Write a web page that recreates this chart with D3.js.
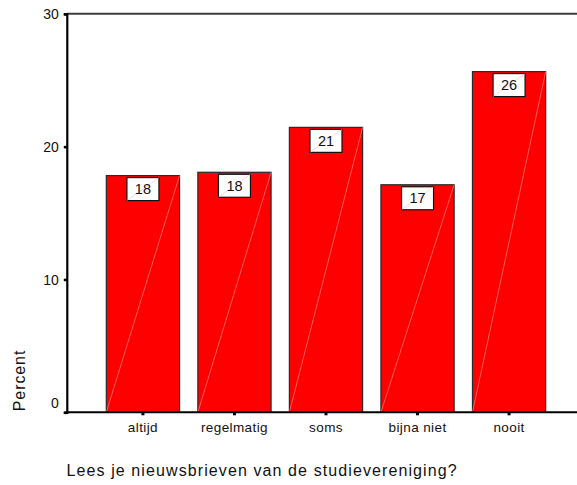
<!DOCTYPE html>
<html>
<head>
<meta charset="utf-8">
<script src="https://cdn.jsdelivr.net/npm/d3@7"></script>
<style>
  html, body { margin: 0; padding: 0; background: #fff; }
  svg { display: block; }
  text { font-family: "Liberation Sans", Arial, sans-serif; fill: #111; }
</style>
</head>
<body>
<svg id="chart" width="577" height="485"></svg>
<script>
const categories = ["altijd", "regelmatig", "soms", "bijna niet", "nooit"];
const values = [17.82, 18.07, 21.45, 17.13, 25.65];
const yTicks = [0, 10, 20, 30];
const yLabel = "Percent";
const xTitle = "Lees je nieuwsbrieven van de studievereniging?";

const svg = d3.select("#chart");
const plotLeft = 66.8, plotTop = 13.8, plotBottom = 412.3, plotRight = 577;

const x = d3.scaleBand().domain(categories).range([88, 564]).paddingInner(0.2).paddingOuter(0.2);
const y = d3.scaleLinear().domain([0, 30]).range([plotBottom, plotTop]);

// top frame line
svg.append("line")
  .attr("x1", plotLeft).attr("x2", plotRight).attr("y1", y(30)).attr("y2", y(30))
  .attr("stroke", "#3c3c3c").attr("stroke-width", 2);

// bars
const data = categories.map((c, i) => ({ c, v: values[i] }));
const g = svg.append("g");
g.selectAll("rect.bar").data(data).enter().append("rect")
  .attr("class", "bar")
  .attr("x", d => x(d.c)).attr("y", d => y(d.v))
  .attr("width", x.bandwidth()).attr("height", d => y(0) - y(d.v))
  .attr("fill", "#ff0000").attr("stroke", "#2a2a2a").attr("stroke-width", 1.2);

g.selectAll("line.diag").data(data).enter().append("line")
  .attr("x1", d => x(d.c)).attr("y1", y(0))
  .attr("x2", d => x(d.c) + x.bandwidth()).attr("y2", d => y(d.v))
  .attr("stroke", "#ff9a9a").attr("stroke-width", 0.6);

// value label boxes
const bw = 32, bh = 23;
const lab = g.selectAll("g.lab").data(data).enter().append("g").attr("class", "lab");
lab.append("rect")
  .attr("x", d => x(d.c) + x.bandwidth() / 2 - bw / 2)
  .attr("y", d => y(d.v) + 2)
  .attr("width", bw).attr("height", bh)
  .attr("fill", "#fff").attr("stroke", "#111").attr("stroke-width", 1.2);
lab.append("line")
  .attr("x1", d => x(d.c) + x.bandwidth() / 2 - bw / 2).attr("y1", d => y(d.v) + 2 + bh)
  .attr("x2", d => x(d.c) + x.bandwidth() / 2 + bw / 2).attr("y2", d => y(d.v) + 2)
  .attr("stroke", "#ffbcbc").attr("stroke-width", 0.6);
lab.append("text")
  .attr("x", d => x(d.c) + x.bandwidth() / 2)
  .attr("y", d => y(d.v) + 2 + bh / 2 + 5.2)
  .attr("text-anchor", "middle")
  .style("font-size", "14.5px")
  .text(d => String(Math.round(d.v)));

// y axis
const yAxis = d3.axisLeft(y).tickValues(yTicks).tickSize(3).tickPadding(5).tickFormat(d3.format("d"));
const ya = svg.append("g").attr("transform", `translate(${plotLeft},0)`).call(yAxis);
ya.select(".domain").attr("stroke", "#000").attr("stroke-width", 2.2);
ya.selectAll(".tick line").attr("stroke", "#000").attr("stroke-width", 2.6);
ya.selectAll(".tick text")
  .style("font-size", "14px").style("font-family", "Liberation Sans, Arial, sans-serif")
  .attr("fill", "#111")
  .attr("dy", d => d === 0 ? "-0.35em" : "0.34em");

// x axis
svg.append("line")
  .attr("x1", plotLeft - 1).attr("x2", plotRight).attr("y1", plotBottom).attr("y2", plotBottom)
  .attr("stroke", "#000").attr("stroke-width", 2);
const xAxis = d3.axisBottom(x).tickSize(3).tickPadding(7);
const xa = svg.append("g").attr("transform", `translate(0,${plotBottom})`).call(xAxis);
xa.select(".domain").remove();
xa.selectAll(".tick line").attr("stroke", "#000").attr("stroke-width", 3);
xa.selectAll(".tick text")
  .style("font-size", "13.5px").style("font-family", "Liberation Sans, Arial, sans-serif")
  .style("letter-spacing", "0.4px").attr("fill", "#111")
  .attr("y", 20).attr("dy", 0);

// y label
svg.append("text")
  .attr("transform", "translate(25,380.5) rotate(-90)")
  .attr("text-anchor", "middle")
  .style("font-size", "16px").style("letter-spacing", "0.9px")
  .text(yLabel);

// x title
svg.append("text")
  .attr("x", 66.5).attr("y", 476)
  .style("font-size", "16px").style("letter-spacing", "1.1px")
  .text(xTitle);
</script>
</body>
</html>
